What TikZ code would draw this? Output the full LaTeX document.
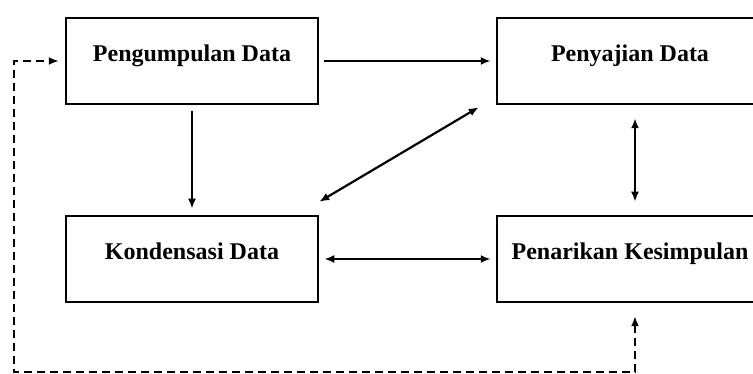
\documentclass[tikz,border=0pt]{standalone}
\usepackage{fontspec}
\setmainfont{Liberation Serif}
\usepackage{tikz}
\usetikzlibrary{arrows.meta}

\tikzset{
  stage/.style={draw, line width=2.5pt, minimum width=252pt, minimum height=86pt,
    text height=16pt, text depth=14pt, inner sep=0pt,
    font=\fontsize{24}{28}\selectfont\bfseries},
  flow/.style={line width=2.2pt, -{Latex[length=10pt,width=8pt]}},
  both/.style={line width=2.2pt, {Latex[length=10pt,width=8pt]}-{Latex[length=10pt,width=8pt]}},
  feedback/.style={line width=1.8pt, dash pattern=on 8pt off 5pt,
    {Latex[length=10pt,width=8pt]}-{Latex[length=10pt,width=8pt]}}
}

\begin{document}
\begin{tikzpicture}[x=1pt,y=-1pt]
  \useasboundingbox (0,0) rectangle (753,374);
  \node[stage] (kumpul) at (192,61) {Pengumpulan Data};
  \node[stage, minimum width=266pt] (saji) at (630,61) {Penyajian Data};
  \node[stage] (kondensasi) at (192,259) {Kondensasi Data};
  \node[stage, minimum width=266pt] (simpul) at (630,259) {Penarikan Kesimpulan};

  \draw[flow, shorten <=5pt, shorten >=5pt] (kumpul.east) -- (saji.west);
  \draw[flow, shorten <=6pt, shorten >=6pt] (kumpul.south) -- (kondensasi.north);
  \draw[both, shorten <=5pt, shorten >=5pt] (kondensasi.east) -- (simpul.west);
  \draw[both, shorten <=13pt, shorten >=13pt] ([xshift=5pt]saji.south) -- ([xshift=5pt]simpul.north);
  \draw[both] ([xshift=-17pt,yshift=-2pt]saji.south west) -- ([yshift=13pt]kondensasi.north east);
  %% feedback loop back to the start
  \coordinate (loop) at (14,372);
  \draw[feedback, shorten <=13pt, shorten >=6pt] ([xshift=5pt]simpul.south) |- (loop) |- (kumpul.west);
\end{tikzpicture}
\end{document}
